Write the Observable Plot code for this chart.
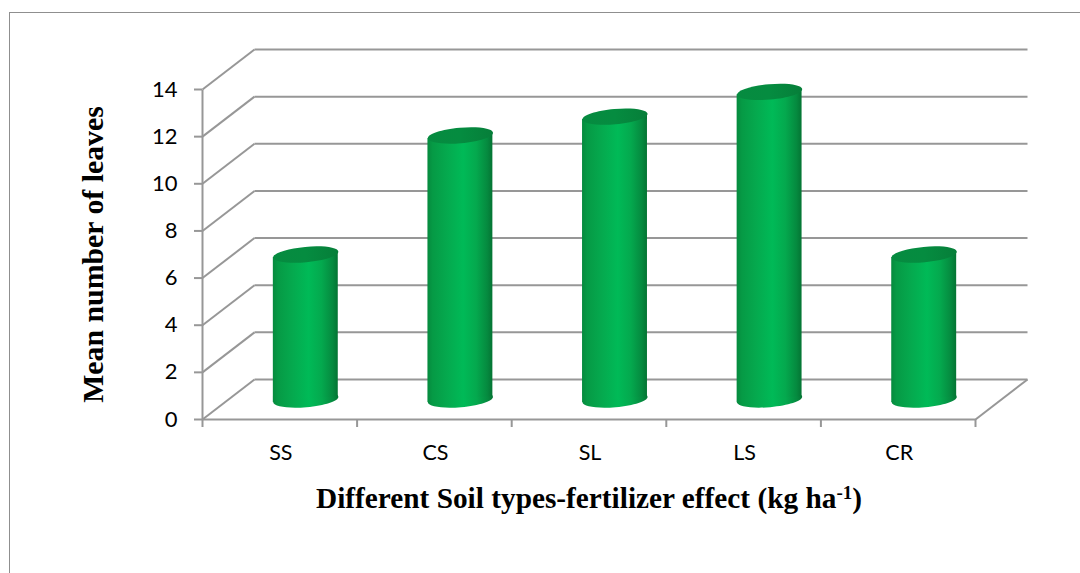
<!DOCTYPE html>
<html>
<head>
<meta charset="utf-8">
<script src="https://cdn.jsdelivr.net/npm/d3@7"></script>
<script src="https://cdn.jsdelivr.net/npm/@observablehq/plot@0.6"></script>
<style>
html,body{margin:0;padding:0;background:#fff;overflow:hidden}
#frame{position:absolute;left:9px;top:12px;right:0;bottom:0;border-left:1.5px solid #8f8f8f;border-top:1.5px solid #8f8f8f}
#chart{position:absolute;left:0;top:0}
</style>
</head>
<body>
<div id="frame"></div>
<div id="chart"></div>
<script>
const categories = ["SS", "CS", "SL", "LS", "CR"];
const values = [6.15, 11.2, 12.0, 13.05, 6.15];
const yTicks = [0, 2, 4, 6, 8, 10, 12, 14];
const xEdges = [0, 1, 2, 3, 4, 5];
const yTitle = "Mean number of leaves";
const xTitle = "Different Soil types-fertilizer effect (kg ha-1)";

// 3-D depth of the box, in data units
const depthX = 0.3364, depthY = 1.697;
const halfBar = 0.21, tilt = 0.125;

const gridColor = "#979797";
const K = v => () => v;
const bars = categories.map((c, i) => ({c, v: values[i], x: i + 0.5 + depthX / 2, y0: depthY / 2}));
const bodyPts = bars.flatMap(b => [
  {c: b.c, x: b.x - halfBar, y1: b.y0 - tilt, y2: b.y0 + b.v - tilt},
  {c: b.c, x: b.x + halfBar, y1: b.y0 + tilt, y2: b.y0 + b.v + tilt}
]);

// tilted ellipse symbol
function ellipseSymbol(ratio, deg) {
  const a = deg * Math.PI / 180, ca = Math.cos(a), sa = Math.sin(a), k = 0.5523;
  return {draw(ctx, size) {
    const rx = Math.sqrt(size / Math.PI), ry = rx * ratio;
    const P = (u, v) => [u * rx * ca - v * ry * sa, u * rx * sa + v * ry * ca];
    ctx.moveTo(...P(1, 0));
    ctx.bezierCurveTo(...P(1, k), ...P(k, 1), ...P(0, 1));
    ctx.bezierCurveTo(...P(-k, 1), ...P(-1, k), ...P(-1, 0));
    ctx.bezierCurveTo(...P(-1, -k), ...P(-k, -1), ...P(0, -1));
    ctx.bezierCurveTo(...P(k, -1), ...P(1, -k), ...P(1, 0));
    ctx.closePath();
  }};
}
const ell = ellipseSymbol(0.235, -5);

const plot = Plot.plot({
  width: 1080, height: 573,
  marginLeft: 202, marginRight: 105, marginTop: 89, marginBottom: 154,
  style: {fontFamily: "Lato", fontSize: "22px", background: "transparent", overflow: "visible"},
  x: {type: "linear", domain: [0, 5], axis: null},
  y: {type: "linear", domain: [0, 14], axis: null},
  marks: [
    // side wall diagonals
    Plot.link(yTicks, {x1: K(0), y1: d => d, x2: K(depthX), y2: d => d + depthY, stroke: gridColor, strokeWidth: 2}),
    // back wall lines
    Plot.link(yTicks, {x1: K(depthX), y1: d => d + depthY, x2: K(5 + depthX), y2: d => d + depthY, stroke: gridColor, strokeWidth: 2}),
    // floor right edge
    Plot.link([0], {x1: K(5), y1: K(0), x2: K(5 + depthX), y2: K(depthY), stroke: gridColor, strokeWidth: 2}),
    // front axes
    Plot.link([0], {x1: K(0), y1: K(0), x2: K(0), y2: K(14), stroke: gridColor, strokeWidth: 2}),
    Plot.link([0], {x1: K(0), y1: K(0), x2: K(5), y2: K(0), stroke: gridColor, strokeWidth: 2}),
    Plot.axisY({ticks: yTicks, tickSize: 8, tickPadding: 17, stroke: gridColor, strokeWidth: 2, fill: "#000", label: null, fontSize: 22}),
    Plot.axisX({ticks: xEdges, tickSize: 8, tickFormat: () => "", stroke: gridColor, strokeWidth: 2, label: null}),
    // category labels
    Plot.text(categories, {x: (d, i) => i + 0.5, y: K(0), dx: 1, dy: 34, text: d => d, fill: "#000", fontSize: 21.5}),
    // cylinders
    Plot.dot(bars, {x: "x", y: "y0", r: 32.7, symbol: ell, fill: "url(#barGrad)", stroke: "none"}),
    Plot.areaY(bodyPts, {x: "x", y1: "y1", y2: "y2", z: "c", fill: "url(#barGrad)", stroke: "none"}),
    Plot.dot(bars, {x: "x", y: d => d.y0 + d.v, r: 32.7, symbol: ell, fill: "url(#topGrad)", stroke: "none"}),
    // titles
    Plot.text([yTitle], {x: K(0), y: K(7), dx: -109, rotate: -90, text: d => d, fontFamily: "Liberation Serif", fontWeight: "bold", fontSize: 29.8, fill: "#000"}),
    Plot.text([xTitle], {x: K(2.5), y: K(0), dy: 79, text: d => d, fontFamily: "Liberation Serif", fontWeight: "bold", fontSize: 29.3, fill: "#000", className: "xtitle"})
  ]
});

// gradients
const svg = d3.select(plot);
const defs = svg.insert("defs", ":first-child");
const grad = defs.append("linearGradient").attr("id", "barGrad").attr("x1", 0).attr("x2", 1).attr("y1", 0).attr("y2", 0);
[[0, "#068a3e"], [0.08, "#069a45"], [0.3, "#05a94e"], [0.55, "#00ba57"], [0.75, "#04a94e"], [0.92, "#058a3f"], [1, "#047433"]]
  .forEach(([o, c]) => grad.append("stop").attr("offset", o).attr("stop-color", c));
const capGrad = defs.append("linearGradient").attr("id", "topGrad").attr("x1", 0).attr("x2", 1).attr("y1", 0).attr("y2", 0);
[[0, "#068b40"], [0.5, "#058c40"], [1, "#067e39"]]
  .forEach(([o, c]) => capGrad.append("stop").attr("offset", o).attr("stop-color", c));

// superscript in the x title
svg.selectAll(".xtitle text").each(function () {
  const t = d3.select(this);
  const s = t.text();
  const cut = s.indexOf("-1)");
  t.text(null);
  t.append("tspan").text(s.slice(0, cut));
  t.append("tspan").attr("dy", "-9").style("font-size", "19px").text("-1");
  t.append("tspan").attr("dy", "9").text(")");
});

document.getElementById("chart").appendChild(plot);
</script>
</body>
</html>
